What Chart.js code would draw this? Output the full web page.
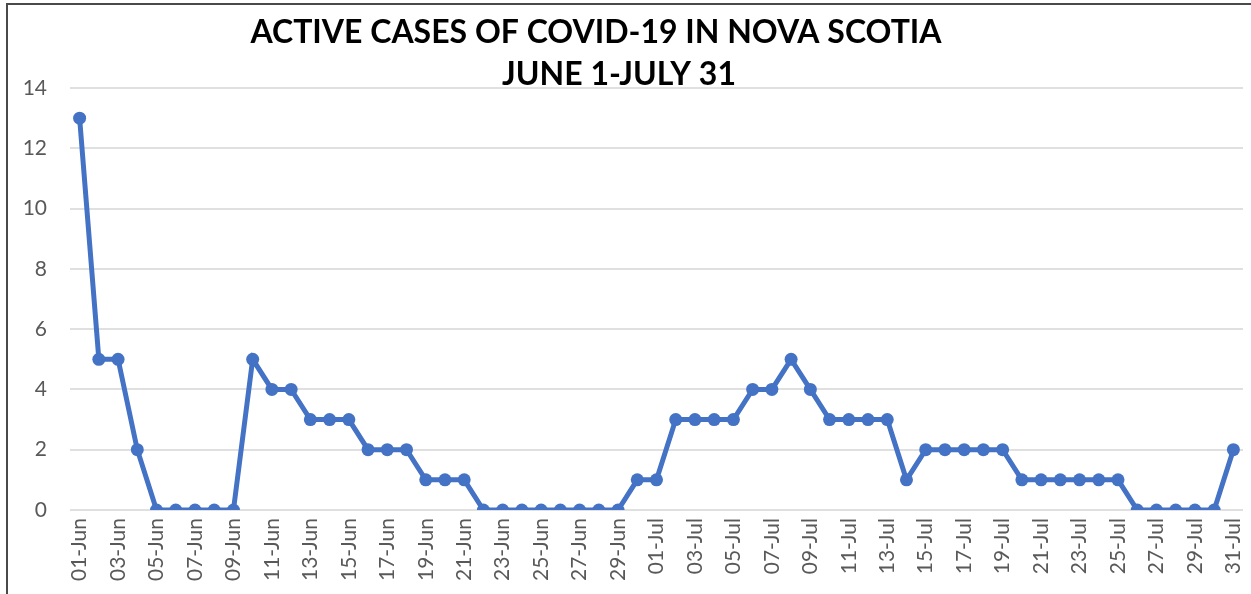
<!DOCTYPE html>
<html>
<head>
<meta charset="utf-8">
<script src="https://cdn.jsdelivr.net/npm/chart.js@4"></script>
<style>
  html, body { margin: 0; padding: 0; background: #fff; overflow: hidden; }
  #frame { position: absolute; left: 6px; top: 3px; width: 1300px; height: 700px;
           border-top: 2px solid #4a4a4a; border-left: 2px solid #4a4a4a; }
  #grafico { position: absolute; left: 0; top: 0; }
</style>
</head>
<body>
<div id="frame"></div>
<canvas id="grafico" width="1251" height="594"></canvas>
<script>
// categorias (dias)
const dias = [
  '01-Jun','02-Jun','03-Jun','04-Jun','05-Jun','06-Jun','07-Jun','08-Jun','09-Jun','10-Jun',
  '11-Jun','12-Jun','13-Jun','14-Jun','15-Jun','16-Jun','17-Jun','18-Jun','19-Jun','20-Jun',
  '21-Jun','22-Jun','23-Jun','24-Jun','25-Jun','26-Jun','27-Jun','28-Jun','29-Jun','30-Jun',
  '01-Jul','02-Jul','03-Jul','04-Jul','05-Jul','06-Jul','07-Jul','08-Jul','09-Jul','10-Jul',
  '11-Jul','12-Jul','13-Jul','14-Jul','15-Jul','16-Jul','17-Jul','18-Jul','19-Jul','20-Jul',
  '21-Jul','22-Jul','23-Jul','24-Jul','25-Jul','26-Jul','27-Jul','28-Jul','29-Jul','30-Jul',
  '31-Jul'
];
// casos ativos
const casosJunho = [13, 5, 5, 2, 0, 0, 0, 0, 0, 5, 4, 4, 3, 3, 3, 2, 2, 2, 1, 1, 1, 0, 0, 0, 0, 0, 0, 0, 0, 1];
const casosJulho = [1, 3, 3, 3, 3, 4, 4, 5, 4, 3, 3, 3, 3, 1, 2, 2, 2, 2, 2, 1, 1, 1, 1, 1, 1, 0, 0, 0, 0, 0, 2];
const casosAtivos = casosJunho.concat(casosJulho);
// eixo y
const yMin = 0, yMax = 14, yPasso = 2;
const tituloLinhas = ['ACTIVE CASES OF COVID-19 IN NOVA SCOTIA', 'JUNE 1-JULY 31'];

// titulo desenhado à mão (sobrepõe a área do gráfico como no original)
const tituloPlugin = {
  id: 'tituloManual',
  afterDraw(chart) {
    const ctx = chart.ctx;
    ctx.save();
    ctx.fillStyle = '#000';
    ctx.font = 'bold 32px Lato, "Open Sans", sans-serif';
    ctx.textAlign = 'center';
    ctx.textBaseline = 'alphabetic';
    ctx.fillText(tituloLinhas[0], 596, 43);
    ctx.fillText(tituloLinhas[1], 619, 85);
    ctx.restore();
  }
};

document.addEventListener('DOMContentLoaded', function () {
  const ctx = document.getElementById('grafico').getContext('2d');
  new Chart(ctx, {
    type: 'line',
    data: {
      labels: dias,
      datasets: [{
        label: 'Active cases',
        data: casosAtivos,
        borderColor: '#4472C4',
        backgroundColor: '#4472C4',
        borderWidth: 5,
        pointRadius: 6.5,
        pointHoverRadius: 6.5,
        pointBorderWidth: 0,
        tension: 0
      }]
    },
    options: {
      responsive: false,
      animation: false,
      layout: { padding: { top: 88, left: 8, right: 8, bottom: 0 } },
      plugins: {
        legend: { display: false },
        title: { display: false },
        tooltip: { enabled: false }
      },
      scales: {
        x: {
          offset: true,
          grid: { display: false, drawTicks: false },
          border: { display: false },
          ticks: {
            autoSkip: false,
            minRotation: 90,
            maxRotation: 90,
            padding: 8,
            color: '#595959',
            font: { family: 'Lato, "Open Sans", sans-serif', size: 21 },
            callback: function (v, i) { return i % 2 === 0 ? dias[i] : ''; }
          },
          afterFit: function (s) { s.height = 84; s.paddingLeft = 0; s.paddingRight = 0; }
        },
        y: {
          min: yMin,
          max: yMax,
          grid: { color: '#e0e0e0', lineWidth: 2, drawTicks: false },
          border: { display: false },
          ticks: {
            stepSize: yPasso,
            padding: 23,
            color: '#595959',
            font: { family: 'Lato, "Open Sans", sans-serif', size: 21 }
          },
          afterFit: function (s) { s.width = 62; }
        }
      }
    },
    plugins: [tituloPlugin]
  });
});
</script>
</body>
</html>
